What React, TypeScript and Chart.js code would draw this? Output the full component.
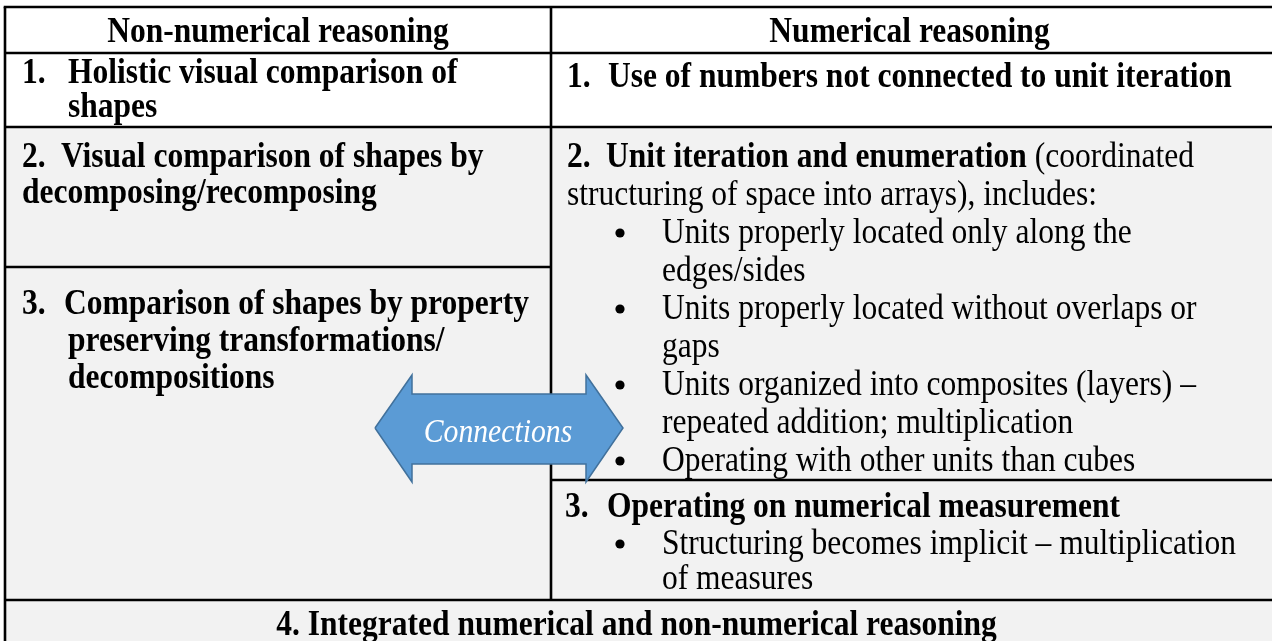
import React, { useEffect, useRef } from "react";
import { Chart, registerables } from "chart.js";

Chart.register(...registerables);

// ---------- content (text data) ----------
const columnHeaders = ["Non-numerical reasoning", "Numerical reasoning"];

const levelNumbers = ["1.", "2.", "3.", "4."];

const nonNumLevel1 = ["Holistic visual comparison of", "shapes"];
const nonNumLevel2 = ["Visual comparison of shapes by", "decomposing/recomposing"];
const nonNumLevel3 = ["Comparison of shapes by property", "preserving transformations/", "decompositions"];

const numLevel1 = ["Use of numbers not connected to unit iteration"];
const numLevel2Title = "Unit iteration and enumeration";
const numLevel2Rest = [" (coordinated", "structuring of space into arrays), includes:"];
const numLevel2Bullets = [
  ["Units properly located only along the", "edges/sides"],
  ["Units properly located without overlaps or", "gaps"],
  ["Units organized into composites (layers) –", "repeated addition; multiplication"],
  ["Operating with other units than cubes"],
];
const numLevel3Title = "Operating on numerical measurement";
const numLevel3Bullets = [["Structuring becomes implicit – multiplication", "of measures"]];

const integratedLabel = "Integrated numerical and non-numerical reasoning";
const arrowLabel = "Connections";

// ---------- layout (chart coordinate units) ----------
const W = 1272;
const H = 641;
const grid = {
  left: 5,
  split: 551,
  right: 1276,
  centerRight: 1268,
  top: 7,
  headerBottom: 53,
  row1Bottom: 127,
  leftRow2Bottom: 267,
  rightRow2Bottom: 480,
  row3Bottom: 600,
  bottom: 700,
};
const base = {
  header: 42,
  row1Left: [83, 117],
  row1Right: 87,
  row2Left: [167, 203],
  row2RightFirst: 167,
  row2RightStep: 38,
  row3Left: [314, 351, 388],
  row3Right: [517, 554, 589],
  row4: 635,
};
const xs = {
  leftNum: 22,
  leftText1: 68,
  leftText2: 61,
  leftText3: 64,
  leftText3Cont: 68,
  rightNum: 567,
  rightText: 608,
  bullet: 620,
  bulletText: 662,
};
// arrow outline (x, y)
const arrowX = [375, 412, 412, 586, 586, 623, 586, 586, 412, 412, 375];
const arrowY = [428, 375, 394, 394, 375, 428, 482, 464, 464, 482, 428];
const arrowText = { x: 498, y: 442 };

const FONT = '"Liberation Serif", "Times New Roman", serif';
const FS = 35;
const SX = 0.9;
const GRAY = "#f2f2f2";

const tablePlugin = {
  id: "tablePlugin",
  beforeDatasetsDraw(chart: any) {
    const { ctx, scales } = chart;
    const X = (v: number) => scales.x.getPixelForValue(v);
    const Y = (v: number) => scales.y.getPixelForValue(v);
    ctx.save();
    ctx.fillStyle = "#ffffff";
    ctx.fillRect(X(grid.left), Y(grid.top), X(grid.right) - X(grid.left), Y(grid.row1Bottom) - Y(grid.top));
    ctx.fillStyle = GRAY;
    ctx.fillRect(X(grid.left), Y(grid.row1Bottom), X(grid.right) - X(grid.left), Y(grid.bottom) - Y(grid.row1Bottom));
    ctx.strokeStyle = "#000000";
    ctx.lineWidth = 2.6;
    const hline = (y: number, x0: number, x1: number) => {
      ctx.beginPath();
      ctx.moveTo(X(x0), Y(y));
      ctx.lineTo(X(x1), Y(y));
      ctx.stroke();
    };
    const vline = (x: number, y0: number, y1: number) => {
      ctx.beginPath();
      ctx.moveTo(X(x), Y(y0));
      ctx.lineTo(X(x), Y(y1));
      ctx.stroke();
    };
    hline(grid.top, grid.left - 1.3, grid.right);
    hline(grid.headerBottom, grid.left, grid.right);
    hline(grid.row1Bottom, grid.left, grid.right);
    hline(grid.leftRow2Bottom, grid.left, grid.split);
    hline(grid.rightRow2Bottom, grid.split, grid.right);
    hline(grid.row3Bottom, grid.left, grid.right);
    vline(grid.left, grid.top, grid.bottom);
    vline(grid.split, grid.top, grid.row3Bottom);
    vline(grid.right, grid.top, grid.bottom);
    ctx.restore();
  },
  afterDatasetsDraw(chart: any) {
    const { ctx, scales } = chart;
    const X = (v: number) => scales.x.getPixelForValue(v);
    const Y = (v: number) => scales.y.getPixelForValue(v);
    ctx.save();
    ctx.fillStyle = "#000000";
    ctx.textBaseline = "alphabetic";
    const text = (s: string, x: number, y: number, style: string, align: "left" | "center" = "left") => {
      ctx.font = `${style}${FS}px ${FONT}`;
      const w = ctx.measureText(s).width * SX;
      let px = X(x);
      if (align === "center") px -= w / 2;
      ctx.save();
      ctx.translate(px, Y(y));
      ctx.scale(SX, 1);
      ctx.textAlign = "left";
      ctx.fillText(s, 0, 0);
      ctx.restore();
      return w;
    };
    const B = "bold ";
    const N = "";
    const bullet = (x: number, y: number) => {
      ctx.beginPath();
      ctx.arc(X(x), Y(y - 10), 4.6, 0, Math.PI * 2);
      ctx.fill();
    };

    // headers
    text(columnHeaders[0], (grid.left + grid.split) / 2, base.header, B, "center");
    text(columnHeaders[1], (grid.split + grid.centerRight) / 2, base.header, B, "center");

    // left column
    text(levelNumbers[0], xs.leftNum, base.row1Left[0], B);
    nonNumLevel1.forEach((s, i) => text(s, xs.leftText1, base.row1Left[i], B));
    text(levelNumbers[1], xs.leftNum, base.row2Left[0], B);
    text(nonNumLevel2[0], xs.leftText2, base.row2Left[0], B);
    text(nonNumLevel2[1], xs.leftNum, base.row2Left[1], B);
    text(levelNumbers[2], xs.leftNum, base.row3Left[0], B);
    nonNumLevel3.forEach((s, i) => text(s, i === 0 ? xs.leftText3 : xs.leftText3Cont, base.row3Left[i], B));

    // right column
    text(levelNumbers[0], xs.rightNum, base.row1Right, B);
    text(numLevel1[0], xs.rightText, base.row1Right, B);

    let y = base.row2RightFirst;
    const step = base.row2RightStep;
    text(levelNumbers[1], xs.rightNum, y, B);
    const w = text(numLevel2Title, xs.rightText - 2, y, B);
    ctx.font = `${FS}px ${FONT}`;
    ctx.save();
    ctx.translate(X(xs.rightText - 2) + w, Y(y));
    ctx.scale(SX, 1);
    ctx.textAlign = "left";
    ctx.fillText(numLevel2Rest[0], 0, 0);
    ctx.restore();
    y += step;
    text(numLevel2Rest[1], xs.rightNum, y, N);
    numLevel2Bullets.forEach((item) => {
      y += step;
      bullet(xs.bullet, y);
      item.forEach((s, i) => {
        if (i > 0) y += step;
        text(s, xs.bulletText, y, N);
      });
    });

    const r3 = base.row3Right;
    text(levelNumbers[2], xs.rightNum - 2, r3[0], B);
    text(numLevel3Title, xs.rightText - 1, r3[0], B);
    let k = 1;
    numLevel3Bullets.forEach((item) => {
      bullet(xs.bullet, r3[k]);
      item.forEach((s) => {
        text(s, xs.bulletText, r3[k], N);
        k++;
      });
    });

    // bottom row
    text(`${levelNumbers[3]} ${integratedLabel}`, (grid.left + grid.centerRight) / 2, base.row4, B, "center");

    // arrow label
    ctx.fillStyle = "#ffffff";
    ctx.font = `italic 33px ${FONT}`;
    const aw = ctx.measureText(arrowLabel).width * SX;
    ctx.save();
    ctx.translate(X(arrowText.x) - aw / 2, Y(arrowText.y));
    ctx.scale(SX, 1);
    ctx.textAlign = "left";
    ctx.fillText(arrowLabel, 0, 0);
    ctx.restore();
    ctx.restore();
  },
};

export default function App() {
  const ref = useRef<HTMLCanvasElement | null>(null);
  useEffect(() => {
    if (!ref.current) return;
    const chart = new Chart(ref.current, {
      type: "scatter",
      data: {
        datasets: [
          {
            label: arrowLabel,
            data: arrowX.map((x, i) => ({ x, y: arrowY[i] })),
            showLine: true,
            fill: "shape",
            backgroundColor: "#5b9bd5",
            borderColor: "#41719c",
            borderWidth: 1.5,
            pointRadius: 0,
            tension: 0,
            clip: false,
          } as any,
        ],
      },
      options: {
        responsive: false,
        animation: false,
        devicePixelRatio: 1,
        layout: { padding: 0 },
        plugins: { legend: { display: false }, tooltip: { enabled: false } },
        events: [],
        scales: {
          x: { type: "linear", min: 0, max: W, display: false },
          y: { type: "linear", min: 0, max: H, reverse: true, display: false },
        },
      },
      plugins: [tablePlugin],
    });
    return () => chart.destroy();
  }, []);
  return (
    <div style={{ position: "fixed", left: 0, top: 0, width: W, height: H, background: "#ffffff" }}>
      <canvas ref={ref} width={W} height={H} style={{ width: W, height: H, display: "block" }} />
    </div>
  );
}
